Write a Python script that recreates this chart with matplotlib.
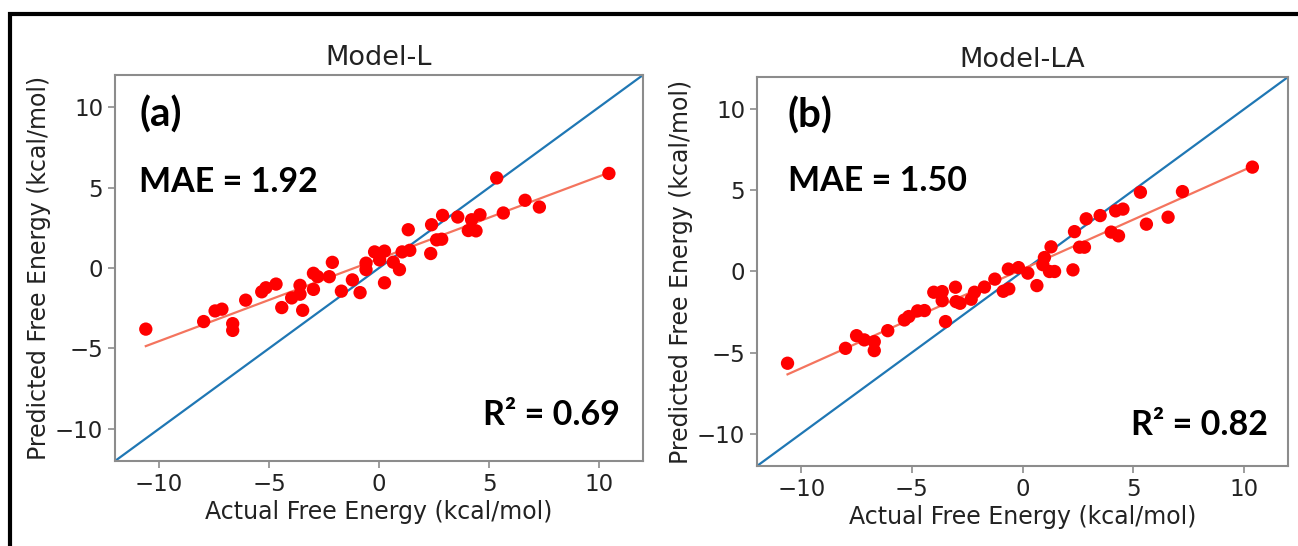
import numpy as np
import matplotlib
matplotlib.use("Agg")
import matplotlib.pyplot as plt
from matplotlib.patches import Rectangle

# Model-L: actual vs predicted free energies (kcal/mol)
actual_l = [-10.6, -7.97, -7.45, -7.14, -6.65, -6.65, -6.06, -5.33, -5.14, -4.68,
            -4.42, -3.97, -3.59, -3.59, -3.47, -2.98, -2.79, -2.98, -2.26, -2.12,
            -1.71, -1.21, -0.86, -0.59, -0.59, -0.20, 0.25, 0.03, 0.25, 0.65,
            0.93, 1.05, 1.40, 1.33, 2.35, 2.62, 2.85, 2.39, 2.89, 3.58,
            4.06, 4.41, 4.21, 4.59, 5.65, 6.64, 7.29, 5.35, 10.45]
pred_l = [-3.80, -3.33, -2.67, -2.56, -3.46, -3.88, -2.00, -1.48, -1.23, -1.00,
          -2.46, -1.86, -1.08, -1.63, -2.63, -0.33, -0.54, -1.33, -0.54, 0.35,
          -1.44, -0.74, -1.53, 0.30, -0.10, 1.00, 1.05, 0.50, -0.92, 0.36,
          -0.10, 1.00, 1.10, 2.38, 0.90, 1.75, 1.79, 2.69, 3.27, 3.17,
          2.33, 2.31, 3.00, 3.31, 3.42, 4.21, 3.79, 5.60, 5.88]

# Model-LA: actual vs predicted free energies (kcal/mol)
actual_la = [-10.62, -8.00, -7.50, -7.15, -6.70, -6.70, -6.09, -5.34, -5.14, -4.74,
             -4.43, -4.01, -3.63, -3.63, -3.48, -3.03, -3.00, -2.82, -2.32, -2.17,
             -1.72, -1.25, -0.87, -0.62, -0.64, -0.18, 0.24, 0.65, 0.92, 0.99,
             1.22, 1.45, 1.29, 2.28, 2.58, 2.80, 2.35, 2.88, 3.51, 4.01,
             4.34, 4.21, 4.54, 5.60, 6.58, 7.23, 5.33, 10.39]
pred_la = [-5.66, -4.74, -3.96, -4.22, -4.33, -4.88, -3.65, -2.99, -2.78, -2.43,
           -2.41, -1.28, -1.24, -1.80, -3.09, -0.97, -1.86, -1.96, -1.71, -1.28,
           -0.96, -0.47, -1.22, -1.07, 0.15, 0.24, -0.10, -0.87, 0.42, 0.86,
           0.00, 0.00, 1.52, 0.10, 1.50, 1.50, 2.46, 3.25, 3.45, 2.43,
           2.20, 3.74, 3.85, 2.92, 3.35, 4.93, 4.89, 6.44]

titles = ["Model-L", "Model-LA"]
panel_tags = ["(a)", "(b)"]
mae_values = [1.92, 1.50]
r2_values = [0.69, 0.82]
ticks = [-10, -5, 0, 5, 10]
limits = (-12, 12)

W, H = 1298, 546
fig = plt.figure(figsize=(W / 100, H / 100), dpi=100)

# axes boxes in pixel units: left, top, right, bottom
boxes = [(115, 75, 643, 461), (757, 77, 1288, 466)]
datasets = [(actual_l, pred_l), (actual_la, pred_la)]

# annotation anchors in axes fractions: (tag x, tag y, mae y, r2 x, r2 y)
anchors = [(0.046, 0.865, 0.698, 0.957, 0.092),
           (0.058, 0.871, 0.706, 0.962, 0.080)]

spine_color = "#8c8c8c"
text_color = "#222222"
bold_font = "Lato"

for i, ((x0, y0, x1, y1), (xs, ys)) in enumerate(zip(boxes, datasets)):
    ax = fig.add_axes([x0 / W, 1 - y1 / H, (x1 - x0) / W, (y1 - y0) / H])
    xs = np.asarray(xs)
    ys = np.asarray(ys)

    # identity line
    ax.plot(limits, limits, color="#1f77b4", lw=1.6, zorder=2)
    # linear fit through the points
    slope, intercept = np.polyfit(xs, ys, 1)
    xf = np.array([xs.min(), xs.max()])
    ax.plot(xf, slope * xf + intercept, color="#f4745e", lw=1.6, zorder=3)
    # scatter
    ax.scatter(xs, ys, s=92, color="#ff0000", edgecolors="none", zorder=4)

    ax.set_xlim(limits)
    ax.set_ylim(limits)
    ax.set_xticks(ticks)
    ax.set_yticks(ticks)
    ax.tick_params(labelsize=16.5, color=spine_color, length=5, width=1.2,
                   labelcolor=text_color)
    for sp in ax.spines.values():
        sp.set_color(spine_color)
        sp.set_linewidth(1.5)

    ax.set_title(titles[i], fontsize=19.5, color=text_color, pad=7)
    ax.set_xlabel("Actual Free Energy (kcal/mol)", fontsize=17,
                  color=text_color, labelpad=3)
    ax.set_ylabel("Predicted Free Energy (kcal/mol)", fontsize=17,
                  color=text_color, labelpad=3)

    tx, ty, my, rx, ry = anchors[i]
    ax.text(tx, ty, panel_tags[i], transform=ax.transAxes,
            fontsize=29, fontweight="bold", family=bold_font,
            ha="left", va="baseline", color="black")
    ax.text(tx, my, f"MAE = {mae_values[i]:.2f}", transform=ax.transAxes,
            fontsize=24.5, fontweight="bold", family=bold_font,
            ha="left", va="baseline", color="black")
    ax.text(rx, ry, f"R\u00b2 = {r2_values[i]:.2f}",
            transform=ax.transAxes, fontsize=24.5, fontweight="bold",
            family=bold_font, ha="right", va="baseline", color="black")

# outer frame (only the top and left edges fall inside the image)
fig.add_artist(Rectangle((10 / W, -0.5), 1.5, 0.5 + (1 - 13.5 / H),
                         transform=fig.transFigure, fill=False,
                         edgecolor="black", linewidth=3.0, clip_on=False))

fig.savefig("out.png", dpi=100)
